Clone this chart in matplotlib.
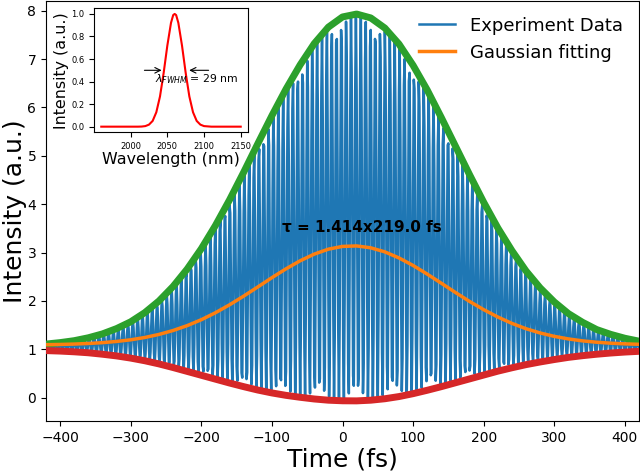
import numpy as np
import matplotlib
matplotlib.use("Agg")
import matplotlib.pyplot as plt

# ---------------- data ----------------
# time grid of the envelope readings (fs)
t_env = [-420, -400, -380, -360, -340, -320, -300, -280, -260, -240, -220,
         -200, -180, -160, -140, -120, -100, -80, -60, -40, -20, 0,
         20, 40, 60, 80, 100, 120, 140, 160, 180, 200, 220,
         240, 260, 280, 300, 320, 340, 360, 380, 400, 420]
# upper envelope (green)
upper_env = [1.11, 1.14, 1.18, 1.24, 1.32, 1.43, 1.57, 1.76, 2.00, 2.30, 2.66,
             3.08, 3.56, 4.09, 4.66, 5.25, 5.83, 6.38, 6.88, 7.32, 7.66, 7.87,
             7.93, 7.85, 7.64, 7.31, 6.87, 6.36, 5.79, 5.20, 4.61, 4.04, 3.51,
             3.04, 2.62, 2.27, 1.98, 1.74, 1.56, 1.41, 1.31, 1.23, 1.17]
# lower envelope (red)
lower_env = [0.975, 0.965, 0.95, 0.93, 0.90, 0.865, 0.82, 0.765, 0.70, 0.625, 0.545,
             0.465, 0.385, 0.305, 0.23, 0.16, 0.10, 0.05, 0.01, -0.025, -0.05, -0.062,
             -0.064, -0.05, -0.02, 0.025, 0.085, 0.155, 0.23, 0.31, 0.39, 0.47, 0.55,
             0.62, 0.685, 0.74, 0.79, 0.835, 0.87, 0.90, 0.925, 0.945, 0.96]
# Gaussian fit of the intensity autocorrelation (orange)
gauss_fit = [1.097, 1.102, 1.110, 1.122, 1.139, 1.164, 1.198, 1.246, 1.309, 1.390, 1.491,
             1.613, 1.757, 1.921, 2.101, 2.290, 2.482, 2.665, 2.831, 2.969, 3.071, 3.128,
             3.138, 3.099, 3.015, 2.890, 2.734, 2.556, 2.367, 2.176, 1.991, 1.821, 1.669,
             1.537, 1.427, 1.339, 1.269, 1.216, 1.176, 1.148, 1.128, 1.114, 1.105]
# fringe parameters of the experiment trace
fringe_period_fs = 6.87      # optical period at ~2060 nm
fringe_center_fs = 19.0
sample_step_fs = 1.0

# inset spectrum
wavelength_nm = [1960, 1970, 1980, 1990, 2000, 2010, 2015, 2020, 2025, 2030,
                 2035, 2040, 2045, 2050, 2055, 2058, 2060, 2062, 2065, 2070,
                 2075, 2080, 2085, 2090, 2095, 2100, 2110, 2120, 2130, 2140, 2150]
spectrum = [0.0, 0.0, 0.0, 0.0, 0.0, 0.0, 0.001, 0.005, 0.018, 0.051,
            0.128, 0.268, 0.477, 0.719, 0.921, 0.99, 1.0, 0.99, 0.921, 0.719,
            0.477, 0.268, 0.128, 0.051, 0.018, 0.005, 0.0, 0.0, 0.0, 0.0, 0.0]

xticks = [-400, -300, -200, -100, 0, 100, 200, 300, 400]
yticks = [0, 1, 2, 3, 4, 5, 6, 7, 8]

# ---------------- figure ----------------
fig = plt.figure(figsize=(6.4, 4.71), dpi=100)
ax = fig.add_axes([46/640, (471-421)/471, 593/640, 420.5/471])

t_fine = np.arange(-420, 420.001, sample_step_fs)
up = np.interp(t_fine, t_env, upper_env)
lo = np.interp(t_fine, t_env, lower_env)
trace = (up + lo) / 2 + (up - lo) / 2 * np.cos(2*np.pi*(t_fine - fringe_center_fs)/fringe_period_fs)

ax.plot(t_fine, trace, color='#1f77b4', lw=1.8, label='Experiment Data', zorder=2)
ax.plot(t_env, upper_env, color='#2ca02c', lw=5, zorder=3)
ax.plot(t_env, lower_env, color='#d62728', lw=5, zorder=3)
ax.plot(t_env, gauss_fit, color='#ff7f0e', lw=2.5, label='Gaussian fitting', zorder=4)

ax.set_xlim(-420, 420)
ax.set_ylim(-0.48, 8.21)
ax.set_xticks(xticks)
ax.set_yticks(yticks)
ax.tick_params(labelsize=10)
ax.set_xlabel('Time (fs)', fontsize=18, labelpad=2)
ax.set_ylabel('Intensity (a.u.)', fontsize=18, labelpad=0)
ax.text(28, 3.51, 'τ = 1.414x219.0 fs', fontsize=11, fontweight='bold',
        ha='center', va='center', zorder=5)
ax.legend(loc='upper right', frameon=False, fontsize=13)

# inset
ins = fig.add_axes([94.3/640, (471-132.3)/471, 153.4/640, 124/471])
ins.plot(wavelength_nm, spectrum, color='red', lw=1.5)
ins.set_xticks([2000, 2050, 2100, 2150])
ins.set_yticks([0.0, 0.2, 0.4, 0.6, 0.8, 1.0])
ins.tick_params(labelsize=6, length=3.5, pad=3.5)
ins.set_xlabel('Wavelength (nm)', fontsize=11.4, labelpad=1)
ins.set_ylabel('Intensity (a.u.)', fontsize=11.4, labelpad=2)
ins.annotate('', xy=(2046, 0.5), xytext=(2015, 0.5),
             arrowprops=dict(arrowstyle='->', color='black', lw=0.8))
ins.annotate('', xy=(2076, 0.5), xytext=(2110, 0.5),
             arrowprops=dict(arrowstyle='->', color='black', lw=0.8))
ins.text(2033, 0.42, r'$\lambda_{FWHM}$ = 29 nm', fontsize=7.8, ha='left', va='center')

fig.savefig('out.png', dpi=100)
